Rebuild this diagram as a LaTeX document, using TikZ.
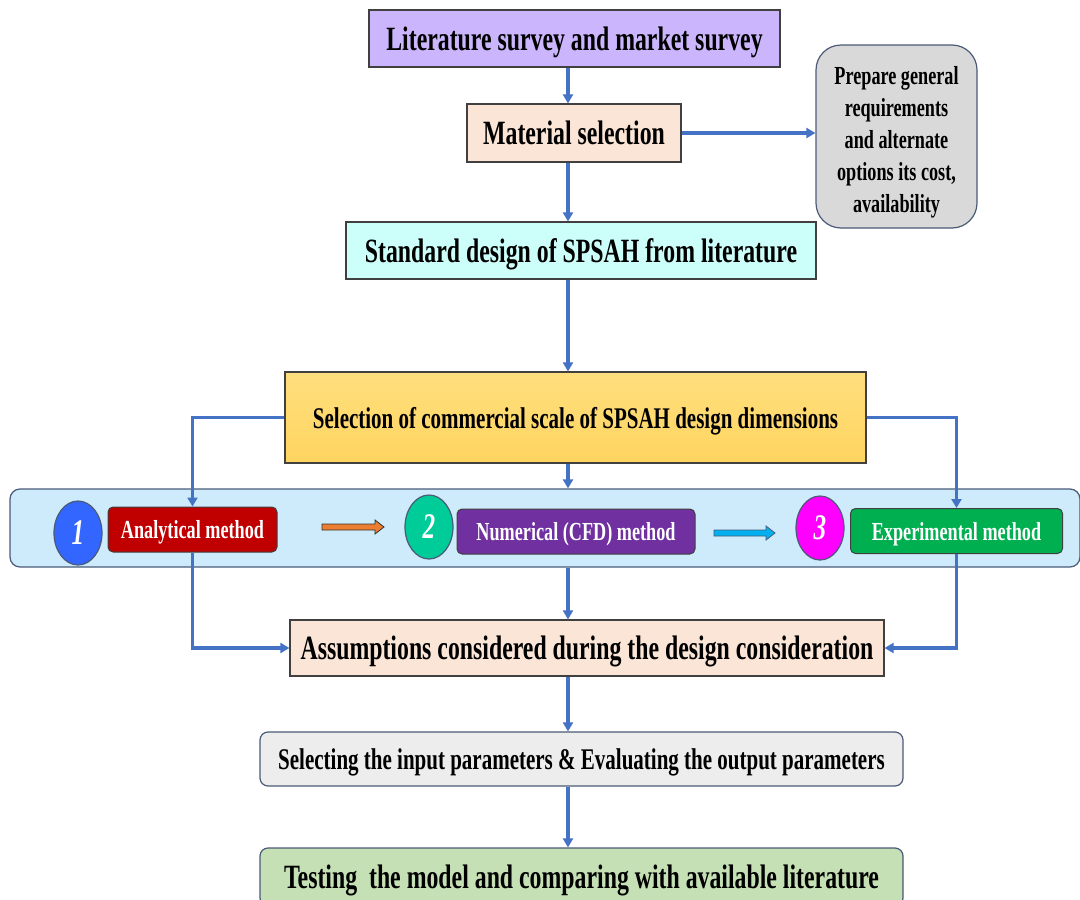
\documentclass[tikz,border=0pt]{standalone}
\usepackage{fontspec}
\setmainfont{Liberation Serif}[FakeStretch=0.7]
\usetikzlibrary{arrows.meta,calc,shapes.geometric}

\definecolor{lavender}{HTML}{CBB5FD}
\definecolor{peach}{HTML}{FBE5D6}
\definecolor{mint}{HTML}{CCFFFA}
\definecolor{gold}{HTML}{FFD966}
\definecolor{band}{HTML}{CDEBFB}
\definecolor{greybox}{HTML}{D9D9D9}
\definecolor{paleg}{HTML}{EDEDED}
\definecolor{sage}{HTML}{C5E0B4}
\definecolor{flow}{HTML}{4472C4}
\definecolor{edge}{HTML}{404040}
\definecolor{slate}{HTML}{4A5A78}
\definecolor{darkred}{HTML}{C00000}
\definecolor{violet}{HTML}{7030A0}
\definecolor{leaf}{HTML}{00B050}
\definecolor{royal}{HTML}{3366FF}
\definecolor{teal}{HTML}{00CC99}
\definecolor{magent}{HTML}{FF00FF}
\definecolor{orng}{HTML}{ED7D31}
\definecolor{sky}{HTML}{00B0F0}

\newcommand{\fsz}[1]{\fontsize{#1}{#1}\selectfont\bfseries}

\tikzset{
  box/.style={draw=edge, line width=1.2pt, inner sep=0pt, align=center, text depth=0pt},
  rbox/.style={draw=slate, line width=1.2pt, rounded corners=8pt, inner sep=0pt,
    align=center, text depth=0pt},
  method/.style={draw=edge, line width=1pt, rounded corners=5pt, inner sep=0pt,
    minimum height=45pt, text=white, font=\fsz{26}, text depth=0pt},
  badge/.style={ellipse, draw=slate, line width=1.2pt, inner sep=0pt,
    minimum width=48pt, minimum height=64pt, text=white, font=\fsz{36}\itshape},
  arr/.style={draw=flow, line width=3.5pt, -{Triangle[length=9pt,width=10pt]}},
}

\begin{document}
\begin{tikzpicture}[x=1pt,y=-1pt]
\useasboundingbox (0,0) rectangle (1080,900);
\begin{scope}
\clip (0,0) rectangle (1080,900);

\coordinate (axis) at (568,0);

% main chain of steps
\node[box, fill=lavender, minimum width=411pt, minimum height=57pt, font=\fsz{34}]
  (lit) at (574.5,38.5) {Literature survey and market survey};
\node[box, fill=peach, minimum width=214pt, minimum height=58pt, font=\fsz{34}]
  (mat) at (574,133) {Material selection};
\node[rbox, rounded corners=25pt, fill=greybox, minimum width=161pt, minimum height=183pt,
  font=\fontsize{26}{32}\selectfont\bfseries]
  (req) at (896.5,136.5) {\rule{0pt}{24pt}Prepare general\\requirements\\and alternate\\options its cost,\\availability};
\node[box, fill=mint, minimum width=470pt, minimum height=57pt, font=\fsz{34}]
  (std) at (581,250.5) {Standard design of SPSAH from literature};
\node[box, top color=gold!85!white, bottom color=gold!95!orange, minimum width=581pt,
  minimum height=91pt, font=\fsz{30}]
  (sel) at (575.5,417.5) {Selection of commercial scale of SPSAH design dimensions};

% band holding the three methods
\node[draw=slate, line width=1.2pt, rounded corners=10pt, fill=band, inner sep=0pt,
  minimum width=1070pt, minimum height=78pt] (bnd) at (545,528) {};

\node[badge, fill=royal] (n1) at (78,533) {1};
\node[method, fill=darkred, minimum width=169pt] (ana) at (192.5,529.5) {Analytical method};
\node[badge, fill=teal] (n2) at (429,527) {2};
\node[method, fill=violet, minimum width=238pt] (num) at (576,531.5) {Numerical (CFD) method};
\node[badge, fill=magent] (n3) at (820,528) {3};
\node[method, fill=leaf, minimum width=212pt] (exp) at (956.5,531) {Experimental method};

% block arrows between methods
\draw[draw=edge!80!black, line width=0.8pt, fill=orng]
  (322,524) -- (375,524) -- (375,520) -- (384,527) -- (375,534) -- (375,530) -- (322,530) -- cycle;
\draw[draw=slate, line width=0.8pt, fill=sky]
  (714,530) -- (766,530) -- (766,526) -- (775,533) -- (766,540) -- (766,536) -- (714,536) -- cycle;

\node[box, fill=peach, minimum width=594pt, minimum height=56pt, font=\fsz{34}]
  (ass) at (587,648) {Assumptions considered during the design consideration};
\node[rbox, fill=paleg, minimum width=643pt, minimum height=54pt, font=\fsz{30}]
  (par) at (581.5,759) {Selecting the input parameters \& Evaluating the output parameters};
\node[rbox, fill=sage, minimum width=643pt, minimum height=58pt, font=\fsz{34}]
  (tst) at (581.5,877) {Testing\ \ the model and comparing with available literature};

% connectors
\draw[arr] (lit.south -| axis) -- (mat.north -| axis);
\draw[arr] (mat.east) -- (req.west |- mat.east);
\draw[arr] (mat.south -| axis) -- (std.north -| axis);
\draw[arr] (std.south -| axis) -- (sel.north -| axis);
\draw[arr] (sel.south -| axis) -- (bnd.north -| axis);
\draw[arr] (sel.west) -| (ana.north);
\draw[arr] (sel.east) -| (exp.north);
\draw[arr] (ana.south) |- (ass.west);
\draw[arr] (exp.south) |- (ass.east);
\draw[arr] (bnd.south -| axis) -- (ass.north -| axis);
\draw[arr] (ass.south -| axis) -- (par.north -| axis);
\draw[arr] (par.south -| axis) -- (tst.north -| axis);
\end{scope}
\end{tikzpicture}
\end{document}
